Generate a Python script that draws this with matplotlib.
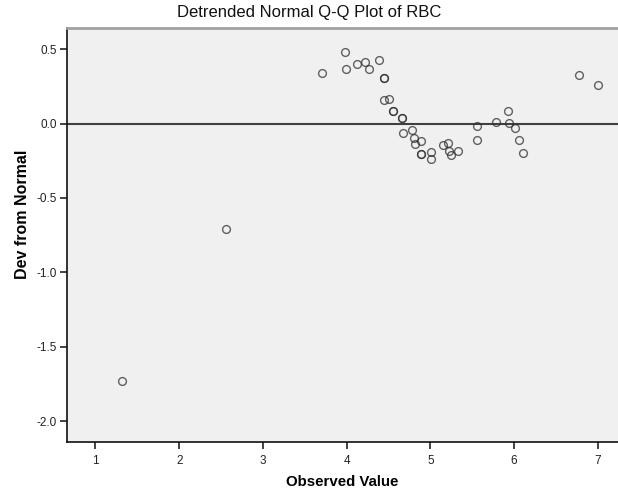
import matplotlib
matplotlib.use("Agg")
from matplotlib import pyplot as plt

plt.rcParams['font.family'] = ['Liberation Sans', 'DejaVu Sans']

# observed RBC values and their deviation from the normal line
observed = [1.315, 2.56, 3.707, 3.982, 3.986, 4.122, 4.221, 4.261, 4.388,
            4.44, 4.44, 4.448, 4.508, 4.559, 4.559, 4.66, 4.66, 4.67,
            4.779, 4.798, 4.81, 4.882, 4.89, 4.89, 5.001, 5.01, 5.149,
            5.213, 5.221, 5.249, 5.329, 5.551, 5.559, 5.778, 5.93, 5.941,
            6.005, 6.053, 6.109, 6.778, 6.997]
dev = [-1.731, -0.709, 0.338, 0.48, 0.365, 0.401, 0.414, 0.369, 0.43,
       0.307, 0.307, 0.159, 0.165, 0.083, 0.083, 0.036, 0.036, -0.061,
       -0.043, -0.095, -0.137, -0.115, -0.204, -0.204, -0.191, -0.236, -0.142,
       -0.133, -0.182, -0.209, -0.186, -0.016, -0.110, 0.009, 0.083, 0.002,
       -0.03, -0.112, -0.196, 0.327, 0.26]

xticks = [1, 2, 3, 4, 5, 6, 7]
yticks = [-2.0, -1.5, -1.0, -0.5, 0.0, 0.5]

fig = plt.figure(figsize=(6.18, 4.93), dpi=100)
ax = fig.add_axes([0.108, 0.1034, 0.892, 0.8392])
ax.set_facecolor('#f0f0f0')

ax.axhline(0, color='#404040', lw=1.5, zorder=1)
ax.plot(observed, dev, 'o', ms=5.6, mfc='none', mec='#303030', mew=1.0,
        alpha=0.75, zorder=2)

ax.set_xlim(0.657, 7.24)
ax.set_ylim(-2.14, 0.64)
ax.set_xticks(xticks)
ax.set_xticklabels([str(t) for t in xticks])
ax.set_yticks(yticks)
ax.set_yticklabels(['%.1f' % t for t in yticks])
ax.tick_params(direction='out', length=5, width=1.2, labelsize=8.5,
               colors='#222222')
ax.tick_params(axis='x', pad=4)
ax.tick_params(axis='y', pad=2)

for side in ['left', 'bottom']:
    ax.spines[side].set_color('#111111')
    ax.spines[side].set_linewidth(1.2)
ax.spines['top'].set_color('#a0a0a0')
ax.spines['top'].set_linewidth(2)
ax.spines['right'].set_visible(False)

# title is centred on the whole figure
fig.text(0.5, 0.975, 'Detrended Normal Q-Q Plot of RBC', fontsize=12,
         ha='center', va='center', color='#111111')
ax.set_xlabel('Observed Value', fontsize=10.8, fontweight='bold', labelpad=6)
ax.set_ylabel('Dev from Normal', fontsize=11.5, fontweight='bold', labelpad=5)
ax.yaxis.set_label_coords(-0.066, 0.55)

fig.savefig('out.png', dpi=100)
